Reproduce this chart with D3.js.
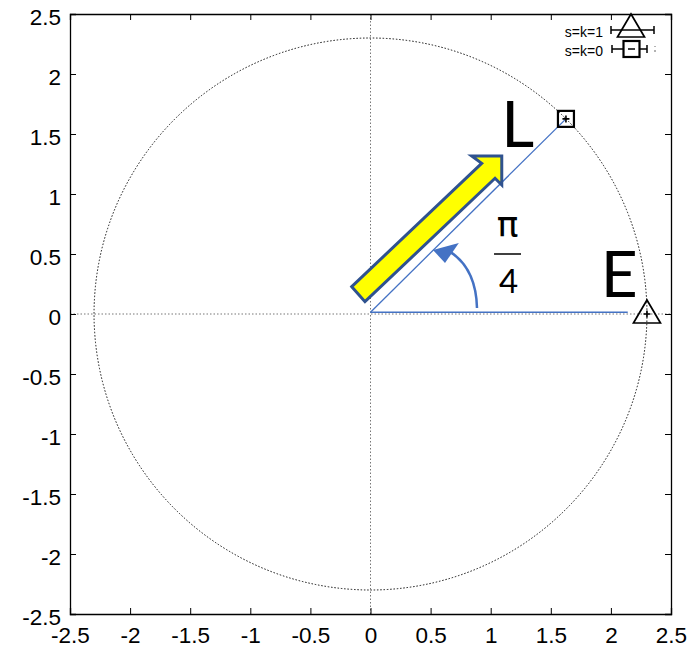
<!DOCTYPE html>
<html><head><meta charset="utf-8">
<script src="https://cdn.jsdelivr.net/npm/d3@7"></script>
<style>body{margin:0;background:#fff}svg{display:block}</style>
</head><body>
<script>
// ---- data ----
const xTicks = [-2.5,-2,-1.5,-1,-0.5,0,0.5,1,1.5,2,2.5];
const yTicks = [-2.5,-2,-1.5,-1,-0.5,0,0.5,1,1.5,2,2.5];
const xTickLabels = ["-2.5","-2","-1.5","-1","-0.5","0","0.5","1","1.5","2","2.5"];
const yTickLabels = ["-2.5","-2","-1.5","-1","-0.5","0","0.5","1","1.5","2","2.5"];
const circleRadius = 2.3;
const pointE = [2.3, 0];            // s=k=1
const pointL = [1.626, 1.626];      // s=k=0
const seriesNames = ["s=k=1","s=k=0"];
const blueHoriz = [[0,0.015],[2.14,0.015]];
const blueDiag = [[0,0.015],[1.626,1.626]];
const yellowArrow = [[-0.156,0.228],[-0.046,0.103],[1.036,1.131],[1.092,1.075],[1.092,1.317],[0.842,1.317],[0.925,1.256]];
const arcPath = [[0.886,0.05],[0.878,0.38],[0.66,0.52]];
const arcHead = [[0.52,0.533],[0.735,0.592],[0.62,0.425]];
const labelL = {text:"L", x:1.225, y:1.39};
const labelE = {text:"E", x:2.07, y:0.14};
const fracPos = {x:1.14, num:"π", den:"4", y:0.5};

// ---- layout ----
const W=698,H=648;
const m={l:70,r:27,t:14,b:34};
const svg=d3.select("body").append("svg").attr("width",W).attr("height",H);
const x=d3.scaleLinear().domain([-2.5,2.5]).range([m.l,W-m.r]);
const y=d3.scaleLinear().domain([-2.5,2.5]).range([H-m.b,m.t]);
const font="'Liberation Sans', Arial, sans-serif";
const bigFont="Lato, 'Open Sans', sans-serif";

// zero lines
svg.append("line").attr("x1",x(-2.5)).attr("x2",x(2.5)).attr("y1",y(0)).attr("y2",y(0))
  .attr("stroke","#777").attr("stroke-width",1).attr("stroke-dasharray","1.5,2");
svg.append("line").attr("x1",x(0)).attr("x2",x(0)).attr("y1",y(-2.5)).attr("y2",y(2.5))
  .attr("stroke","#777").attr("stroke-width",1).attr("stroke-dasharray","1.5,2");
// circle
svg.append("ellipse").attr("cx",x(0)).attr("cy",y(0))
  .attr("rx",x(circleRadius)-x(0)).attr("ry",y(0)-y(circleRadius))
  .attr("fill","none").attr("stroke","#111").attr("stroke-width",1).attr("stroke-dasharray","1.5,1.8");

// axes (inside ticks, mirrored)
const gB=svg.append("g").attr("transform",`translate(0,${y(-2.5)})`)
  .call(d3.axisBottom(x).tickValues(xTicks).tickSize(-6).tickPadding(12).tickFormat((d,i)=>xTickLabels[i]));
const gT=svg.append("g").attr("transform",`translate(0,${y(2.5)})`)
  .call(d3.axisTop(x).tickValues(xTicks).tickSize(-6).tickFormat(""));
const gL=svg.append("g").attr("transform",`translate(${x(-2.5)},0)`)
  .call(d3.axisLeft(y).tickValues(yTicks).tickSize(-6).tickPadding(9).tickFormat((d,i)=>yTickLabels[i]));
const gR=svg.append("g").attr("transform",`translate(${x(2.5)},0)`)
  .call(d3.axisRight(y).tickValues(yTicks).tickSize(-6).tickFormat(""));
[gB,gT,gL,gR].forEach(g=>{
  g.select(".domain").attr("stroke","#000").attr("stroke-width",1.3);
  g.selectAll(".tick line").attr("stroke","#000");
  g.selectAll("text").attr("font-family",font).attr("font-size",22.5).attr("fill","#000");
});
gL.selectAll("text").attr("dy","0.45em");
gB.selectAll("text").attr("dy","0.75em");

// blue lines
const line=d3.line().x(d=>x(d[0])).y(d=>y(d[1]));
svg.append("path").attr("d",line(blueHoriz)).attr("stroke","#4472C4").attr("stroke-width",1.5).attr("fill","none");
svg.append("path").attr("d",line(blueDiag)).attr("stroke","#4472C4").attr("stroke-width",1.3).attr("fill","none");

// curved arrow
const p0=arcPath[0],p1=arcPath[1],p2=arcPath[2];
svg.append("path").attr("d",`M${x(p0[0])},${y(p0[1])} Q${x(p1[0])},${y(p1[1])} ${x(p2[0])},${y(p2[1])}`)
  .attr("stroke","#4472C4").attr("stroke-width",2.5).attr("fill","none");
svg.append("path").attr("d",line(arcHead)+"Z").attr("fill","#4472C4");

// yellow arrow
svg.append("path").attr("d",line(yellowArrow)+"Z").attr("fill","#FFFF00")
  .attr("stroke","#2F528F").attr("stroke-width",3).attr("stroke-linejoin","miter");

// markers
function triangle(g,cx,cy){
  g.append("path").attr("d",`M${cx},${cy-14} L${cx+13.5},${cy+9} L${cx-13.5},${cy+9} Z`)
   .attr("fill","none").attr("stroke","#000").attr("stroke-width",1.7);
}
function square(g,cx,cy){
  g.append("rect").attr("x",cx-8).attr("y",cy-8).attr("width",16).attr("height",16)
   .attr("fill","none").attr("stroke","#000").attr("stroke-width",2.2);
}
function plus(g,cx,cy){
  g.append("path").attr("d",`M${cx-3.5},${cy} H${cx+3.5} M${cx},${cy-3.5} V${cy+3.5}`)
   .attr("stroke","#000").attr("stroke-width",1.6);
}
triangle(svg,x(pointE[0]),y(pointE[1]));
plus(svg,x(pointE[0]),y(pointE[1]));
square(svg,x(pointL[0]),y(pointL[1]));
plus(svg,x(pointL[0]),y(pointL[1]));

// labels
svg.append("text").attr("x",x(labelL.x)).attr("y",y(labelL.y)).attr("text-anchor","middle")
  .attr("font-family",bigFont).attr("font-size",64).text(labelL.text);
svg.append("text").attr("x",x(labelE.x)).attr("y",y(labelE.y)).attr("text-anchor","middle")
  .attr("font-family",bigFont).attr("font-size",64).text(labelE.text);
svg.append("text").attr("x",x(fracPos.x)).attr("y",237).attr("text-anchor","middle")
  .attr("font-family","'DejaVu Sans', sans-serif").attr("font-size",36).text(fracPos.num);
svg.append("line").attr("x1",x(fracPos.x)-13.5).attr("x2",x(fracPos.x)+13.5).attr("y1",y(fracPos.y)).attr("y2",y(fracPos.y))
  .attr("stroke","#000").attr("stroke-width",1.5);
svg.append("text").attr("x",x(fracPos.x)+1).attr("y",293).attr("text-anchor","middle")
  .attr("font-family",bigFont).attr("font-size",33).text(fracPos.den);

// legend
const lg=svg.append("g");
lg.append("text").attr("x",603).attr("y",37).attr("text-anchor","end").attr("font-family",font).attr("font-size",14).text(seriesNames[0]);
lg.append("text").attr("x",603).attr("y",56).attr("text-anchor","end").attr("font-family",font).attr("font-size",14).text(seriesNames[1]);
lg.append("path").attr("d","M611,30 H654 M611,26 V34 M654,26 V34").attr("stroke","#000").attr("stroke-width",1.5);
triangle(lg,631,28);
lg.append("path").attr("d","M612,49 H623 M612,45 V53 M640,49 H647 M647,45 V53 M628,49 H635").attr("stroke","#000").attr("stroke-width",1.5);
square(lg,631.5,49);
lg.append("path").attr("d","M655,46 V47 M655,50 V52").attr("stroke","#666").attr("stroke-width",1);
</script>
</body></html>
